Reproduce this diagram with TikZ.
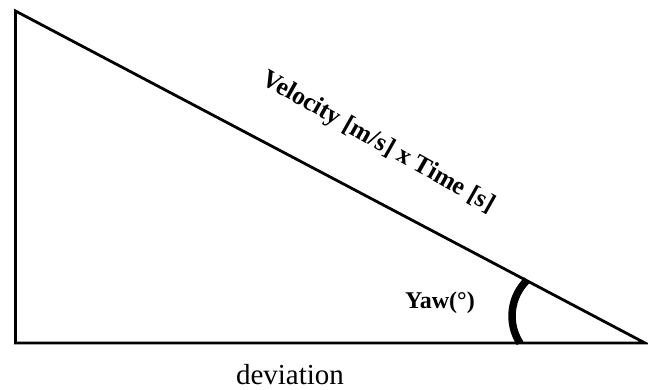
\documentclass[tikz,border=0pt]{standalone}
\usepackage{fontspec}
\setmainfont{Liberation Serif}
\usetikzlibrary{positioning,calc}
\tikzset{
  edge/.style={line width=2.8pt, line join=miter},
  yawarc/.style={line width=7.5pt},
  lbl/.style={font=\fontsize{24}{28}\selectfont\bfseries, inner sep=0pt},
  axislbl/.style={font=\fontsize{29}{34}\selectfont, inner sep=0pt}}

\begin{document}
\begin{tikzpicture}[x=1pt,y=1pt]
  \useasboundingbox (0,0) rectangle (648,389);
  \coordinate (top) at (15.5,378);
  \coordinate (corner) at (15.5,46);
  \coordinate (tip) at (645,46);
  \coordinate (yawc) at (562,73);
  \draw[edge] (top) -- (corner) -- (tip) -- cycle;
  \draw[yawarc] ($(yawc)+(134:50)$) arc[start angle=134, end angle=213, radius=50];
  \node[lbl, font=\fontsize{25.5}{30}\selectfont\bfseries, anchor=base, rotate=-29.5] (dist) at (375,241) {Velocity [m/s] x Time [s]};
  \node[lbl, anchor=base] (yaw) at (440,81) {Yaw(°)};
  \node[axislbl, anchor=base] (dev) at (290,5) {deviation};
\end{tikzpicture}
\end{document}
